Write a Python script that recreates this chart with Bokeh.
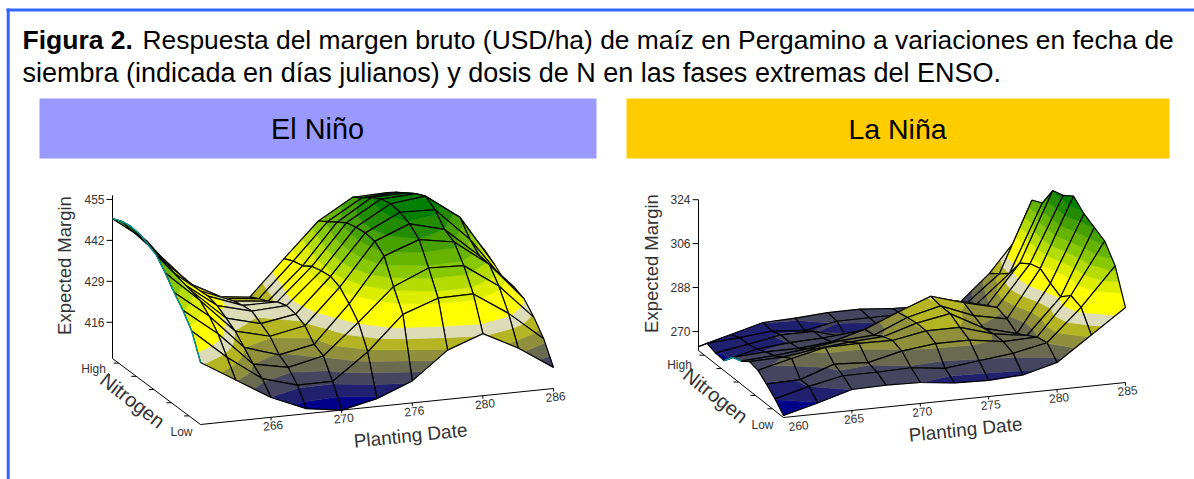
from bokeh.plotting import figure
from bokeh.models import ColumnDataSource, Range1d
from bokeh.core.properties import value
from bokeh.embed import file_html
from bokeh.resources import INLINE
import math

title_bold = "Figura 2."
title_rest = "Respuesta del margen bruto (USD/ha) de maíz en Pergamino a variaciones en fecha de"
title_line2 = "siembra (indicada en días julianos) y dosis de N en las fases extremas del ENSO."
panel_names = ["El Niño", "La Niña"]

# Rows: nitrogen level from Low to High. Columns: planting date.
nino_dates = [261, 263.5, 266, 268.5, 271, 273.5, 276, 278.5, 281, 283.5, 286]
nina_dates = [260, 262.5, 265, 267.5, 270, 272.5, 275, 277.5, 280, 282.5, 285]
nitrogen_levels = [0, 1, 2, 3, 4, 5, 6, 7, 8, 9, 10]

nino_margin = [
    [424.2, 417.5, 410.8, 406.1, 404.5, 407.0, 411.5, 420.1, 424.2, 418.5, 411.2],
    [432.1, 422.6, 414.7, 411.5, 411.5, 419.7, 430.5, 434.5, 434.7, 427.4, 418.2],
    [436.6, 428.0, 417.2, 415.0, 417.5, 427.0, 437.2, 442.0, 441.6, 434.0, 422.9],
    [440.1, 431.5, 420.4, 416.9, 419.1, 430.8, 444.8, 448.9, 447.0, 438.8, 426.7],
    [444.2, 434.3, 423.5, 420.7, 422.9, 434.0, 447.4, 451.8, 448.9, 439.4, 428.3],
    [447.7, 435.3, 425.5, 422.6, 424.5, 435.3, 448.0, 453.4, 453.1, 442.6, 428.3],
    [449.3, 435.6, 427.4, 424.5, 425.1, 435.0, 447.7, 454.0, 455.3, 447.4, 431.2],
    [450.5, 436.9, 428.3, 424.2, 424.2, 434.3, 447.0, 453.4, 454.0, 445.8, 433.7],
    [450.8, 438.2, 428.0, 423.5, 422.3, 432.4, 445.1, 451.8, 452.1, 445.1, 435.3],
    [450.2, 439.4, 428.0, 422.3, 421.0, 431.8, 443.2, 449.6, 450.2, 444.5, 436.2],
    [448.9, 440.7, 427.4, 420.7, 419.4, 430.5, 441.3, 447.7, 448.0, 443.9, 436.9],
]
nina_margin = [
    [263.0, 266.7, 270.8, 271.2, 270.8, 269.2, 268.8, 269.6, 273.3, 283.1, 292.9],
    [267.1, 270.8, 273.7, 273.7, 274.1, 272.4, 274.1, 275.7, 278.6, 291.7, 307.3],
    [270.4, 270.8, 275.7, 274.9, 278.2, 279.8, 279.8, 277.8, 278.2, 293.8, 314.7],
    [273.3, 276.7, 279.8, 280.0, 279.8, 282.3, 282.3, 278.2, 276.1, 290.5, 317.5],
    [274.1, 274.5, 276.5, 277.8, 278.6, 282.7, 285.2, 277.8, 274.1, 293.3, 320.4],
    [271.6, 272.4, 273.7, 275.7, 276.5, 282.3, 285.6, 280.2, 277.4, 296.6, 324.9],
    [270.4, 271.2, 271.2, 272.4, 276.1, 281.7, 286.8, 282.7, 279.4, 295.8, 322.4],
    [266.3, 269.6, 270.8, 271.2, 272.4, 274.5, 278.6, 280.6, 277.4, 293.3, 321.6],
    [266.7, 268.8, 271.2, 271.2, 267.5, 270.4, 272.4, 278.6, 275.3, 286.4, 313.8],
    [267.9, 268.8, 270.0, 268.8, 271.2, 271.2, 271.2, 274.5, 272.9, 283.5, 312.2],
    [263.8, 267.3, 270.8, 271.2, 272.0, 272.0, 270.8, 270.2, 269.2, 280.8, 296.2],
]

nino_margin_ticks = [416, 429, 442, 455]
nina_margin_ticks = [270, 288, 306, 324]
nino_date_ticks = [266, 271, 276, 281, 286]
nino_date_labels = ["266", "270", "276", "280", "286"]
nina_date_ticks = [260, 265, 270, 275, 280, 285]
nina_date_labels = ["260", "265", "270", "275", "280", "285"]
nitrogen_ticks = [1.3, 3.3, 5.3, 7.3, 9.3]
nitrogen_labels = ["Low", "High"]

band_colors = ["#00008b", "#20206e", "#45455f", "#6a6a50", "#8f8f3c", "#b5b523", "#dcdcb8",
               "#ffff00", "#ffff00", "#dded00", "#b5dc00", "#88c800", "#66b300", "#45a000",
               "#228b00", "#008000"]

W, H = 1194, 479
p = figure(width=W, height=H, x_range=Range1d(0, W), y_range=Range1d(H, 0),
           x_axis_location=None, y_axis_location=None, toolbar_location=None,
           output_backend="svg", min_border=0, outline_line_color=None, background_fill_color="white")
p.grid.visible = False
FONT = value("Liberation Sans")
TXT = "#333333"


def txt(x, y, s, size, angle=0.0, align="center", color=TXT, style="normal"):
    p.text([x], [y], text=[s], text_font=FONT, text_font_size=value(f"{size}px"), text_color=color,
           text_align=align, text_baseline="middle", angle=math.radians(angle), text_font_style=style)


def clip(poly, level, keep_above):
    out = []
    n = len(poly)
    for a in range(n):
        A, B = poly[a], poly[(a + 1) % n]
        ina = A[2] >= level if keep_above else A[2] <= level
        inb = B[2] >= level if keep_above else B[2] <= level
        if ina:
            out.append(A)
        if ina != inb:
            t = (level - A[2]) / (B[2] - A[2])
            out.append(tuple(A[c] + t * (B[c] - A[c]) for c in range(3)))
    return out


def panel(dates, margin, margin_ticks, date_ticks, date_labels, cfg):
    d0, ds = dates[0], dates[1] - dates[0]
    ox, oy, dx, dy, nx, ny, k, zb, zs = cfg["o"] + cfg["d"] + cfg["n"] + (cfg["k"], cfg["zb"], cfg["zs"])

    def sx(i, j):
        return ox + dx * i + nx * j + k * i * j

    def sy(i, j, z):
        return oy + dy * i + ny * j - (z - zb) * zs

    imax, jmax = len(dates) - 1, nitrogen_levels[-1]
    # axes
    ztop = max(margin_ticks) + cfg["ztop"]
    p.line([sx(0, jmax), sx(0, jmax)], [sy(0, jmax, zb), sy(0, jmax, ztop)], line_color="black", line_width=1)
    p.line([sx(0, jmax), sx(0, 0)], [sy(0, jmax, zb), sy(0, 0, zb)], line_color="black", line_width=1)
    p.line([sx(0, 0), ox + dx * imax], [sy(0, 0, zb), sy(imax, 0, zb)], line_color="black", line_width=1)
    ax = sx(0, jmax)
    for z in margin_ticks:
        y = sy(0, jmax, z)
        p.line([ax - 6, ax], [y, y], line_color="black", line_width=1)
        txt(ax - 8, y, str(z), 12, align="right")
    for n in nitrogen_ticks:
        x, y = ox + nx * n, oy + ny * n
        p.line([x - 5, x], [y, y], line_color="black", line_width=1)
    for c, (d, lab) in enumerate(zip(date_ticks, date_labels)):
        i = (d - d0) / ds
        x, y = ox + dx * i, oy + dy * i
        if i > 0:
            p.line([x, x], [y, y + 3], line_color="black", line_width=1)
        txt(x + (cfg["first_dx"] if i == 0 else 2), y + 8, lab, 12, angle=cfg["ang"])
    txt(*cfg["low"], nitrogen_labels[0], 12)
    txt(*cfg["high"], nitrogen_labels[1], 12)
    txt(*cfg["xlab"], "Planting Date", 19, angle=cfg["ang"])
    txt(*cfg["nlab"], "Nitrogen", 20, angle=-38)
    txt(*cfg["zlab"], "Expected Margin", 18.5, angle=90)

    # surface, painted from the far cells to the near ones
    lo, hi = min(map(min, margin)), max(map(max, margin))
    width = (hi - lo) / len(band_colors)
    cells = [(i, j) for j in range(jmax) for i in range(imax)]
    cells.sort(key=lambda c: -(abs(ny) * c[1] + abs(dy) * c[0]))
    xs, ys, fc, fa, lc, lw = [], [], [], [], [], []
    for i, j in cells:
        corners = [(i, j), (i + 1, j), (i + 1, j + 1), (i, j + 1)]
        quad = [(sx(a, b), sy(a, b, margin[b][a]), margin[b][a]) for a, b in corners]
        for b, col in enumerate(band_colors):
            piece = quad
            if b > 0:
                piece = clip(piece, lo + b * width, True)
            if piece and b < len(band_colors) - 1:
                piece = clip(piece, lo + (b + 1) * width, False)
            if len(piece) >= 3:
                xs.append([q[0] for q in piece]); ys.append([q[1] for q in piece])
                fc.append(col); fa.append(1.0); lc.append(col); lw.append(0.5)
        xs.append([q[0] for q in quad]); ys.append([q[1] for q in quad])
        fc.append("#000000"); fa.append(0.0); lc.append("#000000"); lw.append(1.2)
    src = ColumnDataSource(dict(xs=xs, ys=ys, fc=fc, fa=fa, lc=lc, lw=lw))
    p.patches("xs", "ys", source=src, fill_color="fc", fill_alpha="fa", line_color="lc", line_width="lw")
    a, b = cfg["teal"]
    p.line([sx(0, j) for j in range(a, b + 1)], [sy(0, j, margin[j][0]) for j in range(a, b + 1)],
           line_color="#009a9a", line_width=1.3)


# frame
p.line([6, W], [9.5, 9.5], line_color="#3366ff", line_width=3)
p.line([7.7, 7.7], [8, H], line_color="#3366ff", line_width=3)

# title
txt(22, 39.5, title_bold, 26.5, align="left", color="#000000", style="bold")
txt(142, 39.5, title_rest, 26.4, align="left", color="#000000")
txt(22, 72, title_line2, 27, align="left", color="#000000")

# header bars
p.quad(left=[39], right=[596], top=[98], bottom=[158], fill_color="#9999ff", line_color=None)
p.quad(left=[626], right=[1169], top=[98], bottom=[158], fill_color="#ffcc00", line_color=None)
txt(317, 128, panel_names[0], 28.8, align="center", color="#000000")
txt(897, 128, panel_names[1], 28.5, align="center", color="#000000")

panel(nino_dates, nino_margin, nino_margin_ticks, nino_date_ticks, nino_date_labels,
      dict(o=(200, 424), d=(35.3, -3.6), n=(-8.8, -6.6), k=-0.1, zb=404.5, zs=3.15, ztop=1.3, ang=5.8,
           first_dx=2, low=(181, 431), high=(93, 368), xlab=(410, 435), nlab=(132, 400), zlab=(64, 265),
           teal=(0, 10)))
panel(nina_dates, nina_margin, nina_margin_ticks, nina_date_ticks, nina_date_labels,
      dict(o=(783, 417), d=(34.2, -3.5), n=(-8.5, -6.7), k=-0.19, zb=262.2, zs=2.44, ztop=0, ang=5.8,
           first_dx=15, low=(762, 424), high=(679, 364), xlab=(965, 429), nlab=(715, 395), zlab=(651, 263),
           teal=(5, 7)))

open("out.html", "w").write(file_html(p, INLINE))
